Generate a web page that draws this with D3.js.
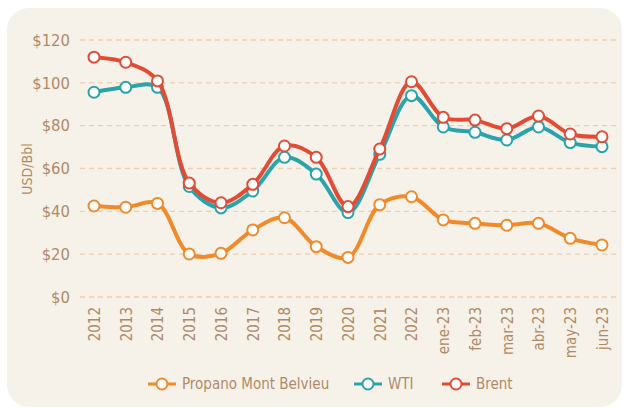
<!DOCTYPE html>
<html><head><meta charset="utf-8">
<script src="https://cdn.jsdelivr.net/npm/d3@7"></script>
<style>
html,body{margin:0;padding:0;background:#fff;}
svg{display:block;}
text{font-family:"DejaVu Sans Condensed",sans-serif;fill:#b08a66;}
</style></head>
<body>
<svg id="chart" width="623" height="408"></svg>
<script>
const categories = ["2012","2013","2014","2015","2016","2017","2018","2019","2020","2021","2022","ene-23","feb-23","mar-23","abr-23","may-23","jun-23"];
const propano = [42.5,41.9,43.7,20.1,20.4,31.3,37.0,23.5,18.5,43.1,46.8,36.0,34.4,33.5,34.4,27.4,24.3];
const wti = [95.6,97.9,97.9,51.6,41.6,49.5,65.2,57.4,39.4,66.6,94.0,79.4,76.9,73.3,79.4,72.1,70.2];
const brent = [112.0,109.6,100.9,53.2,44.0,52.6,70.5,65.2,42.2,69.1,100.5,83.9,82.6,78.6,84.5,76.1,74.8];
const yTicks = [0,20,40,60,80,100,120];
const seriesNames = ["Propano Mont Belvieu","WTI","Brent"];
const seriesColors = ["#f08a2a","#2aa3aa","#e24c35"];

const series = [propano, wti, brent];
const FONT = "'DejaVu Sans Condensed',sans-serif";
const svg = d3.select("#chart");

svg.append("rect").attr("x",7).attr("y",8).attr("width",615).attr("height",399)
  .attr("rx",22).attr("fill","#f6f2ea");

const x = d3.scalePoint().domain(categories).range([94,602]);
const y = d3.scaleLinear().domain([0,120]).range([297,40]);

// grid
svg.append("g").selectAll("line").data(yTicks).join("line")
  .attr("x1",80).attr("x2",620)
  .attr("y1",d=>y(d)).attr("y2",d=>y(d))
  .attr("stroke","#e9cfb3").attr("stroke-width",1.3).attr("stroke-dasharray","5,4");

// y labels
const yAxis = d3.axisLeft(y).tickValues(yTicks).tickFormat(d=>"$"+d).tickSize(0).tickPadding(0);
const gy = svg.append("g").attr("transform","translate(70,0)").call(yAxis);
gy.select(".domain").remove();
gy.selectAll("text").attr("font-size",16.5).attr("fill","#b08a66").attr("font-family",FONT);

// x labels
const xAxis = d3.axisBottom(x).tickSize(0).tickPadding(0);
const gx = svg.append("g").attr("transform","translate(0,307)").call(xAxis);
gx.select(".domain").remove();
gx.selectAll("text")
  .attr("transform","rotate(-90)")
  .attr("text-anchor","end")
  .attr("x",0).attr("y",0).attr("dy","0.35em").attr("dx",0)
  .attr("font-size",15).attr("fill","#b08a66").attr("font-family",FONT);

// y title
svg.append("text").attr("transform","translate(32,169) rotate(-90)")
  .attr("text-anchor","middle").attr("font-size",14).text("USD/Bbl");

const line = d3.line().x((d,i)=>x(categories[i])).y(d=>y(d)).curve(d3.curveCatmullRom.alpha(0.5));

series.forEach((s,k)=>{
  const g = svg.append("g");
  g.append("path").attr("d",line(s)).attr("fill","none")
    .attr("stroke",seriesColors[k]).attr("stroke-width",4).attr("stroke-linejoin","round");
  g.selectAll("circle").data(s).join("circle")
    .attr("cx",(d,i)=>x(categories[i])).attr("cy",d=>y(d)).attr("r",5.5)
    .attr("fill","#fff").attr("stroke",seriesColors[k]).attr("stroke-width",2);
});

// legend
const legendX = [148,354,442];
const lg = svg.append("g");
seriesNames.forEach((n,k)=>{
  const g = lg.append("g").attr("transform",`translate(${legendX[k]},384)`);
  g.append("line").attr("x1",0).attr("x2",28).attr("stroke",seriesColors[k]).attr("stroke-width",3);
  g.append("circle").attr("cx",14).attr("r",5.5).attr("fill","#fff").attr("stroke",seriesColors[k]).attr("stroke-width",2);
  g.append("text").attr("x",34).attr("dy","0.35em").attr("font-size",15).text(n);
});
</script>
</body></html>
